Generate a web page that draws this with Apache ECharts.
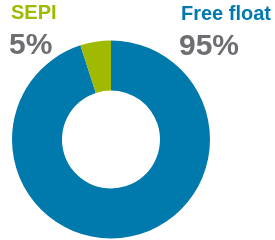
<!DOCTYPE html>
<html><head><meta charset="utf-8">
<script src="https://cdn.jsdelivr.net/npm/echarts@6/dist/echarts.min.js"></script>
<style>html,body{margin:0;padding:0;background:#fff}#c{width:275px;height:240px}</style>
</head><body><div id="c"></div>
<script>
const categories = ["Free float", "SEPI"];
const values = [95, 5];
const colors = ["#0079ad", "#9fba00"];

const chart = echarts.init(document.getElementById('c'), null, {renderer: 'canvas'});
const font = '"Liberation Sans", Arial, sans-serif';
function lbl(i, x, y) {
  return [
    {type: 'text', left: x, top: y, style: {text: categories[i], fill: colors[i], font: 'bold 20px ' + font}},
    {type: 'text', left: x - 2, top: y + 28, style: {text: values[i] + '%', fill: '#6d6e71', font: 'bold 30px ' + font}}
  ];
}
chart.setOption({
  animation: false,
  series: [{
    type: 'pie',
    center: [111, 139.5],
    radius: [49, 99],
    startAngle: 90,
    clockwise: true,
    label: {show: false},
    labelLine: {show: false},
    itemStyle: {borderWidth: 0},
    emphasis: {disabled: true},
    data: categories.map((c, i) => ({name: c, value: values[i], itemStyle: {color: colors[i]}}))
  }],
  graphic: [...lbl(1, 11, 3), ...lbl(0, 181, 4)]
});
</script></body></html>
